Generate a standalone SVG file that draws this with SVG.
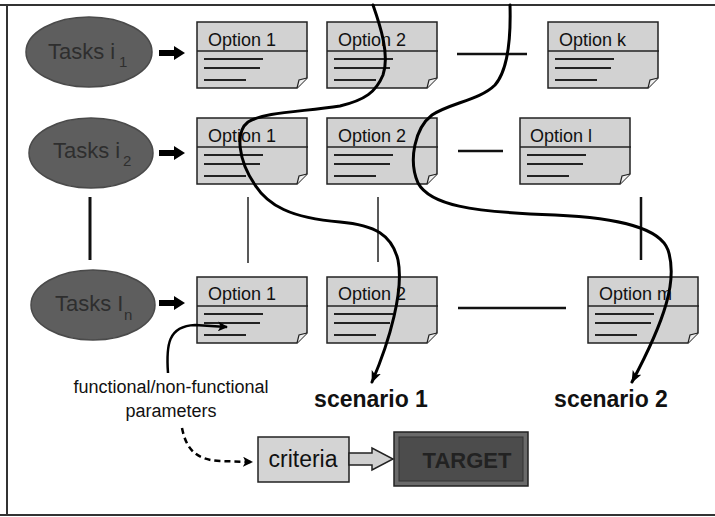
<svg xmlns="http://www.w3.org/2000/svg" xmlns:xlink="http://www.w3.org/1999/xlink" width="715" height="517" viewBox="0 0 715 517">
<style>
.frame{stroke:#333;stroke-width:2;fill:none}
.task{fill:#5e5e5e;stroke:#4a4a4a;stroke-width:1.5}
.ttext{font-family:"Liberation Sans",Arial,sans-serif;font-size:22px;fill:#2e2e2e}
.tsub{font-family:"Liberation Sans",Arial,sans-serif;font-size:15px;fill:#2e2e2e}
.otext{font-family:"Liberation Sans",Arial,sans-serif;font-size:18px;fill:#111}
.lbl{font-family:"Liberation Sans",Arial,sans-serif;font-size:18px;fill:#111}
.scn{font-family:"Liberation Sans",Arial,sans-serif;font-size:23px;font-weight:bold;fill:#111}
.crit{font-family:"Liberation Sans",Arial,sans-serif;font-size:23px;fill:#111}
.tgt{font-family:"Liberation Sans",Arial,sans-serif;font-size:22px;font-weight:bold;fill:#222}
.thin{stroke:#222;stroke-width:1.5;fill:none}
.mid{stroke:#111;stroke-width:2.5;fill:none}
.curve{stroke:#000;stroke-width:3;fill:none;stroke-linecap:round}
</style>
<defs>
<g id="optbox">
<path d="M0,0 H110 V56 L100,66 H0 Z" fill="#d2d2d2" stroke="#222" stroke-width="1.5"/>
<path d="M0,29 H111" stroke="#222" stroke-width="1.5"/>
<path d="M100,66 L102,58 L110,56" fill="#f0f0f0" stroke="#222" stroke-width="1.2"/>
<path d="M7,37 H66 M7,46 H63 M7,58 H49" stroke="#222" stroke-width="2"/>
</g>
<marker id="ah" viewBox="0 0 12 10" refX="11" refY="5" markerWidth="12" markerHeight="10" markerUnits="userSpaceOnUse" orient="auto">
<path d="M0,0 L12,5 L0,10 L3,5 Z" fill="#000"/>
</marker>
<marker id="ahs" viewBox="0 0 10 10" refX="9" refY="5" markerWidth="10" markerHeight="10" markerUnits="userSpaceOnUse" orient="auto">
<path d="M0,0 L10,5 L0,10 L2.5,5 Z" fill="#000"/>
</marker>
</defs>
<rect width="715" height="517" fill="#fff"/>
<path class="frame" d="M0,5 H715 M7,5 V515 M0,515 H715"/>

<g id="task-i1"><ellipse class="task" cx="89" cy="52" rx="63" ry="35"/><text class="ttext" x="48" y="59">Tasks i</text><text class="tsub" x="119" y="67">1</text></g>
<g id="task-i2"><ellipse class="task" cx="91" cy="153" rx="62" ry="35"/><text class="ttext" x="53" y="158">Tasks i</text><text class="tsub" x="123" y="166">2</text></g>
<g id="task-in"><ellipse class="task" cx="93" cy="305" rx="62" ry="35"/><text class="ttext" x="55" y="311">Tasks I</text><text class="tsub" x="124" y="320">n</text></g>

<g id="opt-1-1"><use xlink:href="#optbox" x="197" y="22"/><text class="otext" x="208" y="46">Option 1</text></g>
<g id="opt-1-2"><use xlink:href="#optbox" x="327" y="22"/><text class="otext" x="338" y="46">Option 2</text></g>
<g id="opt-1-k"><use xlink:href="#optbox" x="548" y="22"/><text class="otext" x="559" y="46">Option k</text></g>
<g id="opt-2-1"><use xlink:href="#optbox" x="197" y="118"/><text class="otext" x="208" y="142">Option 1</text></g>
<g id="opt-2-2"><use xlink:href="#optbox" x="327" y="118"/><text class="otext" x="338" y="142">Option 2</text></g>
<g id="opt-2-l"><use xlink:href="#optbox" x="520" y="118"/><text class="otext" x="530" y="142">Option l</text></g>
<g id="opt-3-1"><use xlink:href="#optbox" x="197" y="277"/><text class="otext" x="208" y="300">Option 1</text></g>
<g id="opt-3-2"><use xlink:href="#optbox" x="327" y="277"/><text class="otext" x="338" y="300">Option 2</text></g>
<g id="opt-3-m"><use xlink:href="#optbox" x="588" y="277"/><text class="otext" x="599" y="300">Option m</text></g>

<g id="criteria"><rect x="258" y="437" width="91" height="45" fill="#d4d4d4" stroke="#222" stroke-width="1.5"/><text class="crit" x="303" y="467" text-anchor="middle">criteria</text></g>
<g id="target"><rect x="394" y="432" width="134" height="54" fill="#6a6a6a" stroke="#222" stroke-width="1.5"/><rect x="399" y="437" width="124" height="44" fill="#4c4c4c" stroke="#333" stroke-width="1"/><text class="tgt" x="467" y="468" text-anchor="middle">TARGET</text></g>

<g id="labels">
<text class="lbl" x="171" y="393" text-anchor="middle">functional/non-functional</text>
<text class="lbl" x="171" y="417" text-anchor="middle">parameters</text>
<text class="scn" x="371" y="407" text-anchor="middle">scenario 1</text>
<text class="scn" x="611" y="407" text-anchor="middle">scenario 2</text>
</g>

<g id="connectors">
<path d="M159,50 H174 V46 L185,53 L174,60 V56 H159 Z" fill="#000"/>
<path d="M159,150 H174 V146 L185,153 L174,160 V156 H159 Z" fill="#000"/>
<path d="M159,300 H174 V296 L185,303 L174,310 V306 H159 Z" fill="#000"/>
<path d="M90,197 V260" stroke="#111" stroke-width="3"/>
<path class="thin" d="M248,197 V263"/>
<path class="thin" d="M378,197 V262"/>
<path d="M641,197 V260" stroke="#111" stroke-width="2.5"/>
<path class="mid" d="M457,54 H527"/>
<path class="mid" d="M458,151 H503"/>
<path class="mid" d="M458,308 H566"/>
<path class="curve" marker-end="url(#ah)" d="M373,5 C380,25 390,55 383,75 C376,92 365,100 340,106 C300,112 265,112 248,122 C235,132 238,160 255,185 C268,205 290,218 340,222 C375,225 392,235 398,260 C404,290 390,340 372,382"/>
<path class="curve" marker-end="url(#ah)" d="M510,5 C511,40 508,70 495,85 C480,100 450,103 432,115 C415,128 408,160 418,183 C430,205 470,212 555,215 C620,218 660,228 668,250 C678,280 665,320 632,382"/>
<path d="M168,373 C166,345 168,326 195,325 L227,327" stroke="#000" stroke-width="2.5" fill="none" marker-end="url(#ahs)"/>
<path d="M182,428 C186,448 195,460 220,461 L252,462" stroke="#000" stroke-width="2.5" fill="none" stroke-dasharray="6,4" marker-end="url(#ahs)"/>
<path d="M349,453 H372 V448 L393,459 L372,470 V465 H349 Z" fill="#d0d0d0" stroke="#222" stroke-width="1.5"/>
</g>
</svg>
